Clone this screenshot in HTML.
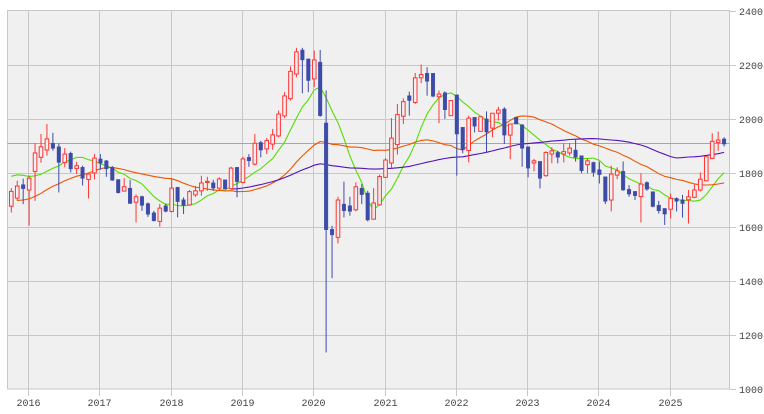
<!DOCTYPE html>
<html><head><meta charset="utf-8"><style>
html,body{margin:0;padding:0;background:#fff;}
svg{display:block;}
text{font-family:"Liberation Mono","DejaVu Sans Mono",monospace;font-size:10px;fill:#444;}
</style></head><body>
<svg id="chart" width="764" height="414" viewBox="0 0 764 414" xmlns="http://www.w3.org/2000/svg">
<rect x="7.5" y="10.5" width="722" height="378.5" fill="#f0f0f0" stroke="#c8c8c8" stroke-width="1"/>
<g id="grid"></g>
<g id="mas"></g>
<g id="candles"></g>
<g id="axes"></g>
</svg>
<script>
const yTicks=[1000,1200,1400,1600,1800,2000,2200,2400];
const yearLabels=["2016","2017","2018","2019","2020","2021","2022","2023","2024","2025"];
const firstYearIndex=3;
const currentPrice=1908;
const opens=[1676,1706,1756,1736,1805,1857,1884,1909,1896,1838,1872,1816,1820,1775,1799,1851,1844,1820,1775,1732,1743,1691,1712,1686,1652,1620,1678,1657,1746,1700,1681,1718,1733,1764,1763,1743,1774,1741,1820,1764,1857,1832,1912,1888,1906,1936,2010,2074,2165,2254,2221,2147,2209,1984,1591,1561,1684,1678,1663,1743,1725,1628,1681,1783,1836,1904,2009,2085,2060,2151,2168,2168,2081,2096,2011,2088,1968,1882,2005,1953,1999,1965,2020,2036,1939,2005,1977,1896,1836,1842,1789,1869,1875,1869,1873,1884,1863,1830,1838,1811,1785,1699,1791,1805,1739,1731,1712,1764,1730,1680,1668,1665,1705,1700,1700,1709,1736,1770,1853,1912,1925];
const highs=[1743,1770,1778,1790,1909,1943,1980,1948,1909,1891,1878,1840,1826,1795,1869,1869,1847,1825,1775,1780,1773,1720,1715,1690,1659,1684,1686,1780,1748,1709,1736,1751,1789,1785,1774,1783,1774,1822,1820,1859,1869,1943,1918,1928,1962,2030,2098,2193,2262,2262,2221,2252,2254,2104,1604,1711,1767,1711,1764,1758,1733,1743,1793,1854,2002,2054,2075,2100,2169,2200,2190,2168,2104,2101,2067,2088,1968,2011,2005,2007,2027,2020,2044,2042,1980,2005,1980,1896,1851,1842,1879,1894,1881,1909,1909,1925,1863,1853,1841,1841,1785,1826,1820,1842,1754,1731,1798,1768,1730,1696,1668,1723,1709,1718,1736,1756,1801,1859,1946,1952,1931];
const lows=[1653,1696,1684,1605,1696,1837,1863,1881,1727,1820,1801,1795,1753,1705,1775,1811,1785,1770,1723,1732,1686,1616,1659,1637,1620,1600,1653,1653,1635,1647,1681,1711,1715,1733,1733,1736,1740,1738,1709,1760,1822,1827,1857,1869,1885,1931,2002,2067,2153,2094,2098,2116,2007,1135,1410,1538,1635,1641,1657,1684,1620,1628,1678,1780,1817,1867,1980,2011,2054,2131,2085,2079,1983,1999,2011,1789,1872,1838,1949,1953,1875,1931,1993,1906,1850,1980,1822,1783,1805,1742,1785,1835,1835,1838,1863,1841,1798,1798,1785,1760,1684,1657,1776,1733,1711,1699,1616,1733,1672,1649,1607,1631,1657,1634,1612,1706,1731,1770,1851,1881,1897];
const closes=[1731,1751,1741,1780,1873,1896,1925,1890,1838,1869,1814,1826,1779,1795,1854,1835,1814,1772,1726,1748,1686,1711,1679,1646,1622,1669,1657,1743,1693,1679,1730,1733,1762,1768,1743,1777,1740,1817,1767,1851,1844,1909,1884,1919,1940,2017,2084,2175,2247,2217,2141,2217,2011,1589,1570,1699,1659,1657,1748,1719,1625,1688,1786,1847,1928,2015,2063,2067,2151,2163,2138,2083,2091,2033,2067,1943,1885,2002,1972,2007,1950,2020,2032,1939,1980,1980,1890,1817,1844,1779,1875,1881,1857,1878,1891,1857,1807,1844,1801,1793,1694,1795,1807,1736,1721,1715,1758,1739,1675,1659,1647,1705,1694,1686,1711,1736,1776,1859,1916,1921,1906];
const priorCloses=[1700,1680,1650,1620,1600,1590,1610,1620,1600,1630,1650,1640,1660,1654,1700,1760,1820,1850,1840,1830,1790,1760];
const maPeriods=[9,24,60];
const maColors=["#55dd00","#ee5500","#5511bb"];
const maNames=["ma-9-line","ma-24-line","ma-60-line"];

const NS="http://www.w3.org/2000/svg";
const X0=11.3, DX=5.94, Y0=10.5, PPU=(389-10.5)/1400;
function xs(i){return X0+i*DX;}
function ys(v){return Y0+(2400-v)*PPU;}
function mk(tag,attrs,parent){const e=document.createElementNS(NS,tag);for(const k in attrs)e.setAttribute(k,attrs[k]);parent.appendChild(e);return e;}
const grid=document.getElementById('grid'),axes=document.getElementById('axes'),cg=document.getElementById('candles'),mg=document.getElementById('mas');

yTicks.forEach(v=>{
  const y=Math.round(ys(v))+0.5;
  if(v>1000&&v<2400){const l=mk('line',{x1:7.5,x2:729.5,y1:y,y2:y,stroke:'#c8c8c8','stroke-width':1},grid);
  
  }
  const t=mk('line',{x1:729.5,x2:736,y1:y,y2:y,stroke:'#c8c8c8','stroke-width':1},axes);
  
  
  const tx=mk('text',{x:739,y:y+3.5},axes);tx.textContent=v;
  
  
});
yearLabels.forEach((lab,k)=>{
  const x=Math.round(xs(firstYearIndex+12*k)-1)+0.5;
  const l=mk('line',{x1:x,x2:x,y1:10.5,y2:396,stroke:'#c8c8c8','stroke-width':1},grid);
  
  
  const tx=mk('text',{x:x,y:406,'text-anchor':'middle'},axes);tx.textContent=lab;
  
  
});
const cp=mk('line',{x1:7.5,x2:729.5,y1:ys(currentPrice),y2:ys(currentPrice),stroke:'#ff8080','stroke-width':1},grid);



const all=priorCloses.concat(closes), off=priorCloses.length;
maPeriods.forEach((p,m)=>{
  let pts=[];
  for(let i=0;i<closes.length;i++){
    const j=i+off; if(j-p+1<0)continue;
    let s=0;for(let k=j-p+1;k<=j;k++)s+=all[k];
    pts.push(xs(i).toFixed(1)+','+ys(s/p).toFixed(1));
  }
  const pl=mk('polyline',{points:pts.join(' '),fill:'none',stroke:maColors[m],'stroke-width':1.1},mg);
  
  
});

for(let i=0;i<closes.length;i++){
  const x=xs(i),o=opens[i],c=closes[i],up=c>=o;
  const col=up?'#ff3333':'#3d4ba8';
  const w=mk('line',{x1:x,x2:x,y1:ys(highs[i]),y2:ys(lows[i]),stroke:col,'stroke-width':1},cg);
  
  
  const top=ys(Math.max(o,c)),bot=ys(Math.min(o,c));
  const r=mk('rect',{x:x-1.8,y:top,width:3.6,height:Math.max(1,bot-top),fill:up?'#f0f0f0':col,stroke:col,'stroke-width':up?1:0.4},cg);
  
  
}
</script>
</body></html>
